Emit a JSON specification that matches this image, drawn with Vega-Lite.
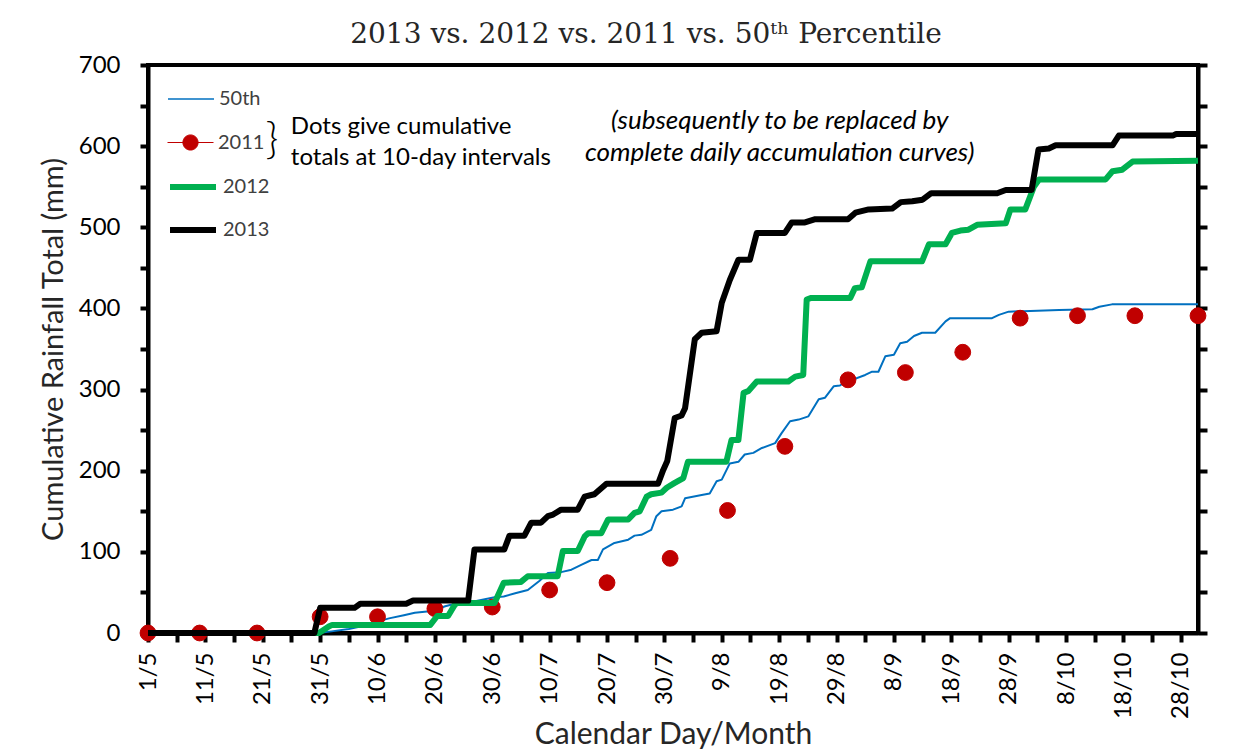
{
  "$schema": "https://vega.github.io/schema/vega-lite/v6.json",
  "width": 1050,
  "height": 568,
  "autosize": {"type": "none"},
  "padding": {"left": 148, "top": 65, "right": 51, "bottom": 119},
  "background": "white",
  "config": {"view": {"stroke": "black", "strokeWidth": 4}, "font": "Lato",
    "legend": {"orient": "none", "legendX": 19, "title": null, "padding": 0, "labelFont": "Lato", "labelFontSize": 20, "labelColor": "#404040", "labelOffset": 4, "symbolSize": 2116, "symbolOpacity": 1}},
  "title": {"text": "2013 vs. 2012 vs. 2011 vs. 50ᵗʰ Percentile", "font": "DejaVu Serif", "fontSize": 28, "fontWeight": "normal", "color": "#262626", "anchor": "middle", "baseline": "alphabetic", "offset": 21, "dx": -27, "dy": 39},
  "datasets": {
    "curves": [
      {"series":"50th","day":0,"mm":0},{"series":"50th","day":29.7,"mm":0},{"series":"50th","day":32,"mm":2},{"series":"50th","day":35,"mm":5},{"series":"50th","day":37,"mm":8},{"series":"50th","day":40,"mm":14},{"series":"50th","day":42,"mm":18},{"series":"50th","day":44.6,"mm":22},{"series":"50th","day":46.5,"mm":25},{"series":"50th","day":49.5,"mm":27},{"series":"50th","day":51.8,"mm":33},{"series":"50th","day":54,"mm":37},{"series":"50th","day":57,"mm":39},{"series":"50th","day":60.4,"mm":44},{"series":"50th","day":62,"mm":45},{"series":"50th","day":64,"mm":49},{"series":"50th","day":66.2,"mm":53},{"series":"50th","day":68.2,"mm":64},{"series":"50th","day":69.7,"mm":74},{"series":"50th","day":72,"mm":75},{"series":"50th","day":73.8,"mm":78},{"series":"50th","day":75.5,"mm":84},{"series":"50th","day":77.3,"mm":90},{"series":"50th","day":78.4,"mm":90},{"series":"50th","day":79.3,"mm":103},{"series":"50th","day":81.3,"mm":111},{"series":"50th","day":83.7,"mm":115},{"series":"50th","day":84.8,"mm":120},{"series":"50th","day":86,"mm":121},{"series":"50th","day":87.7,"mm":127},{"series":"50th","day":88.6,"mm":144},{"series":"50th","day":89.5,"mm":150},{"series":"50th","day":91.5,"mm":152},{"series":"50th","day":93,"mm":156},{"series":"50th","day":93.6,"mm":166},{"series":"50th","day":96.5,"mm":170},{"series":"50th","day":97.9,"mm":172},{"series":"50th","day":99.1,"mm":187},{"series":"50th","day":100,"mm":189},{"series":"50th","day":101.4,"mm":209},{"series":"50th","day":102.9,"mm":211},{"series":"50th","day":104,"mm":220},{"series":"50th","day":105.5,"mm":222},{"series":"50th","day":107,"mm":228},{"series":"50th","day":109.3,"mm":234},{"series":"50th","day":110.4,"mm":246},{"series":"50th","day":111.9,"mm":261},{"series":"50th","day":113.4,"mm":263},{"series":"50th","day":115.1,"mm":267},{"series":"50th","day":116.9,"mm":288},{"series":"50th","day":118,"mm":290},{"series":"50th","day":119.5,"mm":304},{"series":"50th","day":120.6,"mm":305},{"series":"50th","day":121.2,"mm":308},{"series":"50th","day":125,"mm":318},{"series":"50th","day":126.2,"mm":322},{"series":"50th","day":127.3,"mm":322},{"series":"50th","day":128.5,"mm":341},{"series":"50th","day":130,"mm":343},{"series":"50th","day":131.1,"mm":357},{"series":"50th","day":132.3,"mm":359},{"series":"50th","day":133.5,"mm":366},{"series":"50th","day":134.9,"mm":370},{"series":"50th","day":137.2,"mm":370},{"series":"50th","day":139,"mm":384},{"series":"50th","day":139.8,"mm":388},{"series":"50th","day":147.1,"mm":388},{"series":"50th","day":148.3,"mm":392},{"series":"50th","day":150,"mm":396},{"series":"50th","day":158.8,"mm":398},{"series":"50th","day":164.6,"mm":399},{"series":"50th","day":165.8,"mm":402},{"series":"50th","day":168,"mm":405},{"series":"50th","day":183,"mm":405},
      {"series":"2012","day":0,"mm":0},{"series":"2012","day":29.8,"mm":0},{"series":"2012","day":31.5,"mm":8},{"series":"2012","day":32.1,"mm":10},{"series":"2012","day":49.2,"mm":10},{"series":"2012","day":50.4,"mm":21},{"series":"2012","day":52.3,"mm":21},{"series":"2012","day":53.4,"mm":34},{"series":"2012","day":53.8,"mm":37},{"series":"2012","day":60.4,"mm":37},{"series":"2012","day":62,"mm":62},{"series":"2012","day":65,"mm":63},{"series":"2012","day":66.2,"mm":70},{"series":"2012","day":71.4,"mm":70},{"series":"2012","day":72.3,"mm":101},{"series":"2012","day":74.9,"mm":101},{"series":"2012","day":76.1,"mm":119},{"series":"2012","day":76.7,"mm":123},{"series":"2012","day":79,"mm":123},{"series":"2012","day":80.2,"mm":140},{"series":"2012","day":83.7,"mm":140},{"series":"2012","day":84.8,"mm":148},{"series":"2012","day":85.7,"mm":150},{"series":"2012","day":86.9,"mm":168},{"series":"2012","day":87.7,"mm":171},{"series":"2012","day":89.5,"mm":173},{"series":"2012","day":90.4,"mm":179},{"series":"2012","day":91.8,"mm":185},{"series":"2012","day":93.3,"mm":191},{"series":"2012","day":94.1,"mm":211},{"series":"2012","day":100.8,"mm":211},{"series":"2012","day":101.7,"mm":238},{"series":"2012","day":102.9,"mm":238},{"series":"2012","day":103.8,"mm":296},{"series":"2012","day":104.6,"mm":298},{"series":"2012","day":106.1,"mm":310},{"series":"2012","day":111.6,"mm":310},{"series":"2012","day":112.8,"mm":316},{"series":"2012","day":114.2,"mm":318},{"series":"2012","day":114.8,"mm":411},{"series":"2012","day":115.6,"mm":413},{"series":"2012","day":122.4,"mm":413},{"series":"2012","day":123.2,"mm":425},{"series":"2012","day":124.4,"mm":426},{"series":"2012","day":125.9,"mm":458},{"series":"2012","day":134.9,"mm":458},{"series":"2012","day":136.1,"mm":479},{"series":"2012","day":139,"mm":479},{"series":"2012","day":140.1,"mm":493},{"series":"2012","day":141.6,"mm":496},{"series":"2012","day":143,"mm":497},{"series":"2012","day":144.5,"mm":503},{"series":"2012","day":149.5,"mm":505},{"series":"2012","day":150.3,"mm":522},{"series":"2012","day":152.9,"mm":522},{"series":"2012","day":154.4,"mm":550},{"series":"2012","day":155.3,"mm":559},{"series":"2012","day":166.9,"mm":559},{"series":"2012","day":168.1,"mm":569},{"series":"2012","day":169.8,"mm":571},{"series":"2012","day":171.6,"mm":581},{"series":"2012","day":183,"mm":582},
      {"series":"2013","day":0,"mm":0},{"series":"2013","day":29,"mm":0},{"series":"2013","day":30,"mm":31},{"series":"2013","day":36,"mm":31},{"series":"2013","day":37,"mm":36},{"series":"2013","day":45,"mm":36},{"series":"2013","day":46.2,"mm":40},{"series":"2013","day":55.8,"mm":40},{"series":"2013","day":56.9,"mm":103},{"series":"2013","day":62.1,"mm":103},{"series":"2013","day":63,"mm":120},{"series":"2013","day":65.6,"mm":120},{"series":"2013","day":66.8,"mm":136},{"series":"2013","day":68.5,"mm":136},{"series":"2013","day":69.7,"mm":144},{"series":"2013","day":70.6,"mm":146},{"series":"2013","day":72,"mm":152},{"series":"2013","day":74.9,"mm":152},{"series":"2013","day":76.1,"mm":168},{"series":"2013","day":77.8,"mm":171},{"series":"2013","day":79.9,"mm":184},{"series":"2013","day":88.9,"mm":184},{"series":"2013","day":89.8,"mm":201},{"series":"2013","day":90.5,"mm":212},{"series":"2013","day":91.8,"mm":265},{"series":"2013","day":93,"mm":268},{"series":"2013","day":93.6,"mm":277},{"series":"2013","day":95.3,"mm":362},{"series":"2013","day":96.5,"mm":370},{"series":"2013","day":99.1,"mm":372},{"series":"2013","day":100,"mm":407},{"series":"2013","day":101.4,"mm":435},{"series":"2013","day":102.9,"mm":460},{"series":"2013","day":104.9,"mm":460},{"series":"2013","day":106.1,"mm":493},{"series":"2013","day":111,"mm":493},{"series":"2013","day":112.2,"mm":506},{"series":"2013","day":114.5,"mm":506},{"series":"2013","day":116.3,"mm":510},{"series":"2013","day":122,"mm":510},{"series":"2013","day":123.3,"mm":518},{"series":"2013","day":125.6,"mm":522},{"series":"2013","day":129.7,"mm":523},{"series":"2013","day":131.2,"mm":531},{"series":"2013","day":133.2,"mm":532},{"series":"2013","day":135,"mm":534},{"series":"2013","day":136.5,"mm":542},{"series":"2013","day":148,"mm":542},{"series":"2013","day":149.5,"mm":546},{"series":"2013","day":154,"mm":546},{"series":"2013","day":155.2,"mm":596},{"series":"2013","day":157,"mm":597},{"series":"2013","day":158.2,"mm":601},{"series":"2013","day":168.1,"mm":601},{"series":"2013","day":169.2,"mm":613},{"series":"2013","day":178.6,"mm":613},{"series":"2013","day":179.2,"mm":615},{"series":"2013","day":183,"mm":615}
    ],
    "dots": [
      {"series":"2011","day":0,"mm":0},{"series":"2011","day":9,"mm":0},{"series":"2011","day":19,"mm":0},{"series":"2011","day":30,"mm":20},{"series":"2011","day":40,"mm":20},{"series":"2011","day":50,"mm":30},{"series":"2011","day":60,"mm":32},{"series":"2011","day":70,"mm":53},{"series":"2011","day":80,"mm":62},{"series":"2011","day":91,"mm":92},{"series":"2011","day":101,"mm":151},{"series":"2011","day":111,"mm":230},{"series":"2011","day":122,"mm":312},{"series":"2011","day":132,"mm":321},{"series":"2011","day":142,"mm":346},{"series":"2011","day":152,"mm":388},{"series":"2011","day":162,"mm":391},{"series":"2011","day":172,"mm":391},{"series":"2011","day":183,"mm":391}
    ],
    "notes": [
      {"kind":"plain","note":"Dots give cumulative","day":24.9,"mm":615},
      {"kind":"plain","note":"totals at 10-day intervals","day":24.9,"mm":577},
      {"kind":"italic","note":"(subsequently to be replaced by","day":110.1,"mm":621},
      {"kind":"italic","note":"complete daily accumulation curves)","day":110.1,"mm":582},
      {"kind":"brace","note":"}","day":21.6,"mm":606}
    ]
  },
  "encoding": {
    "x": {"field": "day", "type": "quantitative",
      "scale": {"domain": [0, 183], "nice": false, "zero": false},
      "axis": {"values": [0,5,10,15,20,25,30,35,40,45,50,55,60,65,70,75,80,85,90,95,100,105,110,115,120,125,130,135,140,145,150,155,160,165,170,175,180],
        "labelExpr": "datum.value % 10 == 0 ? timeFormat(datetime(2013, 4, 1 + datum.value), '%-d/%-m') : ''",
        "labelAngle": -90, "labelFont": "Lato", "labelFontSize": 24, "labelColor": "black", "labelPadding": 10,
        "labelFlush": false, "labelOverlap": false, "labelBound": false,
        "tickColor": "black", "tickWidth": 4, "tickSize": 9, "domainColor": "black", "domainWidth": 4, "grid": false,
        "title": "Calendar Day/Month", "titleFont": "Lato", "titleFontSize": 30, "titleFontWeight": "normal", "titleColor": "#262626",
        "titleBaseline": "alphabetic", "titleAlign": "center", "titleX": 525, "titleY": 110}},
    "y": {"field": "mm", "type": "quantitative",
      "scale": {"domain": [0, 700], "nice": false, "zero": true},
      "axis": {"orient": "left", "values": [0,50,100,150,200,250,300,350,400,450,500,550,600,650,700],
        "labelExpr": "datum.value % 100 == 0 ? datum.label : ''",
        "labelFont": "Lato", "labelFontSize": 24, "labelColor": "black", "labelPadding": 20,
        "labelFlush": false, "labelOverlap": false,
        "tickColor": "black", "tickWidth": 4, "tickSize": 8, "domainColor": "black", "domainWidth": 4, "grid": false,
        "title": "Cumulative Rainfall Total (mm)", "titleFont": "Lato", "titleFontSize": 29, "titleFontWeight": "normal", "titleColor": "#262626",
        "titleAngle": -90, "titleAlign": "center", "titleBaseline": "middle", "titleX": -95, "titleY": 284}}
  },
  "layer": [
    {
      "layer": [
        {
          "data": {"name": "curves"},
          "transform": [{"filter": "datum.series == '50th'"}],
          "mark": {"type": "line", "strokeJoin": "round", "strokeWidth": 2},
          "encoding": {
            "color": {"field": "series", "type": "nominal",
              "scale": {"domain": ["50th"], "range": ["#0070C0"]},
              "legend": {"legendY": 10, "symbolType": "stroke", "symbolStrokeWidth": 1.5}}
          }
        },
        {
          "data": {"name": "dots"},
          "mark": {"type": "point", "filled": false, "fill": "#C00000", "strokeWidth": 1, "size": 250, "opacity": 1},
          "encoding": {
            "stroke": {"field": "series", "type": "nominal",
              "scale": {"domain": ["2011"], "range": ["#C00000"]},
              "legend": {"legendY": 54, "symbolType": "M-1,0H1M0.33,0A0.33,0.33 0 1,1 -0.33,0A0.33,0.33 0 1,1 0.33,0Z", "symbolStrokeWidth": 1, "symbolFillColor": "#C00000", "symbolStrokeColor": "#C00000"}}
          }
        },
        {
          "data": {"name": "curves"},
          "transform": [{"filter": "datum.series == '2012'"}],
          "mark": {"type": "line", "strokeJoin": "round", "strokeWidth": 6},
          "encoding": {
            "color": {"field": "series", "type": "nominal",
              "scale": {"domain": ["2012"], "range": ["#00B050"]},
              "legend": {"legendY": 96, "symbolType": "stroke", "symbolStrokeWidth": 6}}
          }
        },
        {
          "data": {"name": "notes"},
          "transform": [{"filter": "datum.kind == 'plain'"}],
          "mark": {"type": "text", "align": "left", "baseline": "alphabetic", "font": "Lato", "fontSize": 24, "color": "black"},
          "encoding": {"text": {"field": "note"}}
        },
        {
          "data": {"name": "notes"},
          "transform": [{"filter": "datum.kind == 'italic'"}],
          "mark": {"type": "text", "align": "center", "baseline": "alphabetic", "font": "Lato", "fontSize": 26, "fontStyle": "italic", "color": "black"},
          "encoding": {"text": {"field": "note"}}
        },
        {
          "data": {"name": "notes"},
          "transform": [{"filter": "datum.kind == 'brace'"}],
          "mark": {"type": "text", "align": "center", "baseline": "middle", "font": "Lato", "fontSize": 44, "fontWeight": 300, "color": "black"},
          "encoding": {"text": {"field": "note"}}
        }
      ],
      "resolve": {"scale": {"color": "independent"}, "legend": {"color": "independent"}}
    },
    {
      "data": {"name": "curves"},
      "transform": [{"filter": "datum.series == '2013'"}],
      "mark": {"type": "line", "strokeJoin": "round", "strokeWidth": 6},
      "encoding": {
        "y": {"field": "mm", "type": "quantitative",
          "scale": {"domain": [0, 700], "nice": false, "zero": true},
          "axis": {"orient": "right", "values": [0,50,100,150,200,250,300,350,400,450,500,550,600,650,700],
            "labels": false, "tickColor": "black", "tickWidth": 4, "tickSize": 9, "domainColor": "black", "domainWidth": 4, "grid": false, "title": null}},
        "color": {"field": "series", "type": "nominal",
          "scale": {"domain": ["2013"], "range": ["#000000"]},
          "legend": {"legendY": 139, "symbolType": "stroke", "symbolStrokeWidth": 6}}
      }
    }
  ],
  "resolve": {"scale": {"color": "independent"}, "legend": {"color": "independent"}, "axis": {"y": "independent"}}
}
